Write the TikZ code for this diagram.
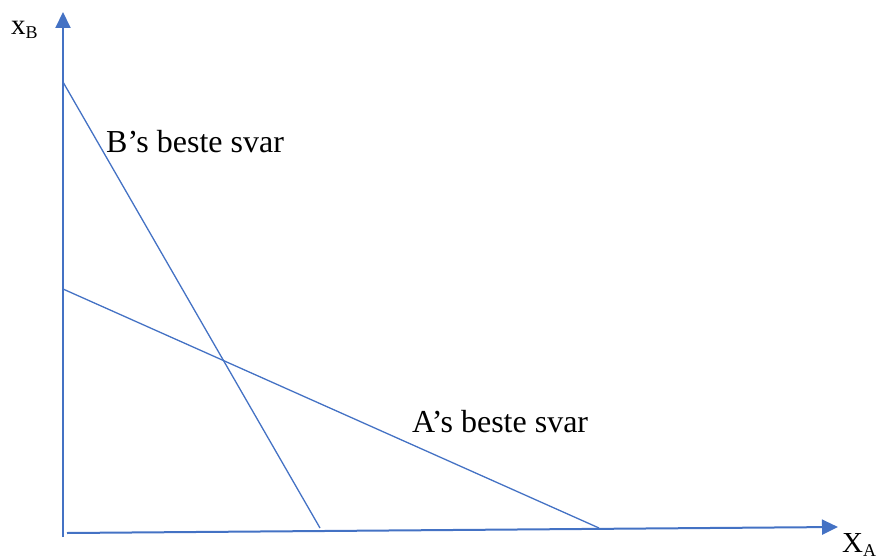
\documentclass[tikz,border=0pt]{standalone}
\usepackage{fontspec}
\setmainfont{Liberation Serif}
\usetikzlibrary{arrows.meta}
\definecolor{axisblue}{HTML}{4472C4}
\tikzset{
  axisline/.style={draw=axisblue, line width=2pt, -{Triangle[length=16pt,width=15pt]}},
  respline/.style={draw=axisblue, line width=1.3pt},
  lbl/.style={anchor=base west, inner sep=0pt, font=\fontsize{29}{29}\selectfont},
  biglbl/.style={anchor=base west, inner sep=0pt, font=\fontsize{32}{32}\selectfont},
}
\begin{document}
\begin{tikzpicture}[x=1pt,y=-1pt]
\useasboundingbox (0,0) rectangle (880,556);
% axes
\coordinate (yb) at (63,537);
\coordinate (yt) at (63,12);
\coordinate (xl) at (67,533);
\coordinate (xr) at (838,527);
\draw[axisline] (yb) -- (yt);
\draw[axisline] (xl) -- (xr);
% best responses
\coordinate (b0) at (63,82);
\coordinate (b1) at (320,528);
\coordinate (a0) at (63,289);
\coordinate (a1) at (599,528);
\draw[respline] (b0) -- (b1);
\draw[respline] (a0) -- (a1);
% labels
\node[biglbl] (bl) at (106,153) {B’s beste svar};
\node[biglbl] (al) at (412,432) {A’s beste svar};
\node[lbl] (yl) at (11,35) {x\raisebox{-4pt}{\fontsize{18}{18}\selectfont B}};
\node[lbl] (xlab) at (842,552) {X\raisebox{-4pt}{\fontsize{18}{18}\selectfont A}};
\end{tikzpicture}
\end{document}
